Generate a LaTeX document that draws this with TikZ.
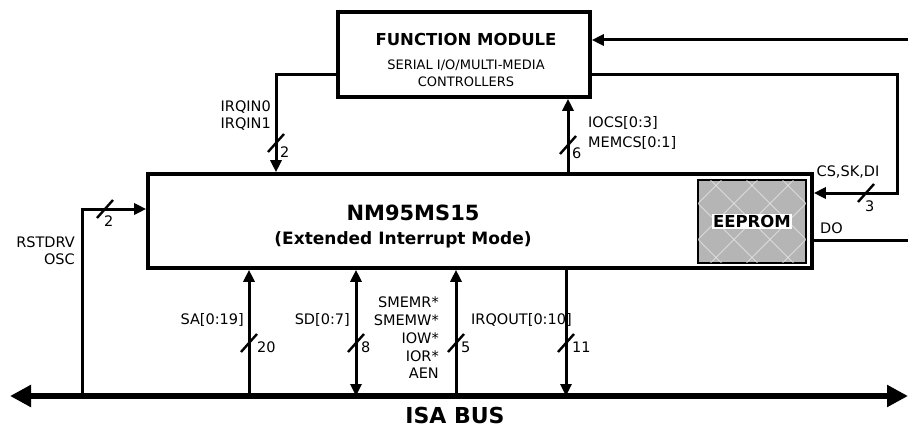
\documentclass[tikz,border=0pt]{standalone}
\usepackage{fontspec}
\setmainfont{DejaVu Sans}
\usetikzlibrary{arrows.meta, positioning, calc}

\begin{document}
\begin{tikzpicture}[
    x=1pt, y=-1pt,
    >={Triangle[length=12pt, width=11pt]},
    % Block styles
    block/.style={draw, line width=3.6pt, inner sep=0pt},
    romblock/.style={draw, line width=1.4pt, fill=gray!58, inner sep=0pt, minimum width=108pt, minimum height=83pt},
    % Connector styles
    sig/.style={line width=3pt},
    bus/.style={line width=6pt, {Triangle[length=21pt, width=21pt]}-{Triangle[length=21pt, width=21pt]}},
    slashline/.style={line width=2.4pt},
    % Text styles
    bigtitle/.style={font=\bfseries\fontsize{21}{24}\selectfont, inner sep=0pt},
    titletext/.style={font=\bfseries\fontsize{16.5}{19}\selectfont, inner sep=0pt},
    sublabel/.style={font=\fontsize{13}{15}\selectfont, inner sep=0pt},
    siglabel/.style={font=\fontsize{14.5}{16}\selectfont, inner sep=0pt},
    widthlabel/.style={font=\fontsize{14.5}{16}\selectfont, inner sep=0pt, anchor=west}
]

    \useasboundingbox (0,0) rectangle (908,428);

    % === BLOCKS ===
    \node[block, minimum width=252pt, minimum height=85pt] (fm) at (464,54.5) {};
    \node[titletext] (fmtitle) at (466,39) {FUNCTION MODULE};
    \node[sublabel] (fmsub1) at (466,65) {SERIAL I/O/MULTI-MEDIA};
    \node[sublabel] (fmsub2) at (466,82) {CONTROLLERS};

    \node[block, minimum width=664pt, minimum height=94pt] (chip) at (480,221) {};
    \node[bigtitle] (chipname) at (413,213) {NM95MS15};
    \node[titletext, font=\bfseries\fontsize{17}{20}\selectfont] (chipmode) at (403,240) {(Extended Interrupt Mode)};

    % EEPROM inside the chip
    \node[romblock] (rom) at (752,221.5) {};
    \begin{scope}
        \clip (rom.south west) rectangle (rom.north east);
        \foreach \d in {-144,-108,...,144} {
            \draw[white!85!gray, line width=0.6pt] ($(rom.center)+(\d,0)+(-60,-60)$) -- ++(120,120);
            \draw[white!85!gray, line width=0.6pt] ($(rom.center)+(\d,0)+(-60,60)$) -- ++(120,-120);
        }
    \end{scope}
    \draw[line width=1.4pt] (rom.south west) rectangle (rom.north east);
    \node[titletext, font=\bfseries\fontsize{16.5}{19}\selectfont, fill=white, inner sep=1.5pt] (romtext) at (rom.center) {EEPROM};

    % === ISA BUS ===
    \coordinate (busl) at (10,396);
    \coordinate (busr) at (908,396);
    \draw[bus] (busl) -- (busr);
    \node[font=\bfseries\fontsize{22}{25}\selectfont, inner sep=0pt] (busname) at (455,415) {ISA BUS};

    % Taps on the bus
    \coordinate (rstb) at (82,396);
    \coordinate (sab) at (249,396);
    \coordinate (sdb) at (356,396);
    \coordinate (ctlb) at (456,396);
    \coordinate (irqb) at (566,396);

    % === CONNECTORS ===
    \coordinate (fmin) at (908,40);
    \draw[sig, ->] (fmin) -- (fmin -| fm.east);

    \coordinate (romturn) at (897,75);
    \draw[sig, ->] (fm.east |- romturn) -- (romturn) |- ([yshift=28pt]chip.east);

    \coordinate (doout) at (908,240);
    \draw[sig] ([yshift=-19pt]chip.east) -- (doout);

    \draw[sig, ->] ([yshift=-20.5pt]fm.west) -| ([xshift=-204pt]chip.north);
    \draw[sig, ->] ([xshift=88pt]chip.north) -- ([xshift=88pt]chip.north |- fm.south);

    \draw[sig, ->] (rstb) |- ([yshift=12pt]chip.west);

    \draw[sig, ->] (sab) -- (sab |- chip.south);
    \draw[sig, <->] (sdb) -- (sdb |- chip.south);
    \draw[sig, ->] (ctlb) -- (ctlb |- chip.south);
    \draw[sig, ->] (irqb |- chip.south) -- (irqb);

    % Bus width slashes
    \foreach \x/\y/\lx/\ly/\n in {276/143/280/152/2, 568/145/572/153/6, 105/209/104/221/2, 866/193/865/206/3,
                                  249/343/257/347/20, 356/343/361/347/8, 456/343/461/347/5, 566/343/572/347/11} {
        \draw[slashline] (\x-8,\y+9) -- (\x+8,\y-9);
        \node[widthlabel] (w\x-\y) at (\lx,\ly) {\n};
    }

    % === SIGNAL LABELS ===
    \node[siglabel, anchor=east] (irqin0) at (271,107) {IRQIN0};
    \node[siglabel, anchor=east] (irqin1) at (271,124) {IRQIN1};
    \node[siglabel, anchor=west] (iocs) at (588,123) {IOCS[0:3]};
    \node[siglabel, anchor=west] (memcs) at (588,143) {MEMCS[0:1]};
    \node[siglabel] (cssk) at (848,172) {CS,SK,DI};
    \node[siglabel, anchor=west] (dolabel) at (820,228) {DO};
    \node[siglabel, anchor=east] (rstdrv) at (75,242) {RSTDRV};
    \node[siglabel, anchor=east] (osc) at (75,259) {OSC};
    \node[siglabel, anchor=east] (salabel) at (244,320) {SA[0:19]};
    \node[siglabel, anchor=east] (sdlabel) at (350,320) {SD[0:7]};
    \foreach \y/\s in {302/SMEMR*, 320/SMEMW*, 338/IOW*, 356/IOR*, 373/AEN} {
        \node[siglabel, anchor=east] (ctl\y) at (439,\y) {\s};
    }
    \node[siglabel, anchor=west] (irqout) at (471,320) {IRQOUT[0:10]};

\end{tikzpicture}
\end{document}
